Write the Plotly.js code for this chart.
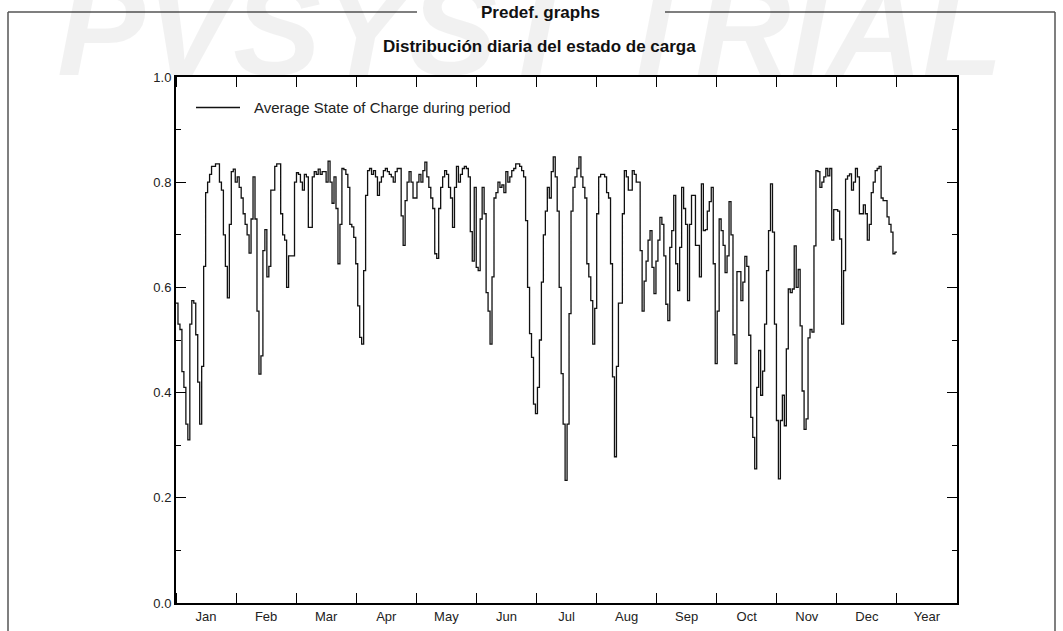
<!DOCTYPE html>
<html>
<head>
<meta charset="utf-8">
<script src="https://cdn.plot.ly/plotly-3.0.1.min.js"></script>
<style>html,body{margin:0;padding:0;background:#fff;}#chart{width:1063px;height:631px;}</style>
</head>
<body>
<div id="chart"></div>
<script>
// ---- data ----
const months = ['Jan','Feb','Mar','Apr','May','Jun','Jul','Aug','Sep','Oct','Nov','Dec','Year'];
const seriesName = 'Average State of Charge during period';
const soc = [
 0.57,0.53,0.52,0.44,0.41,0.34,0.31,0.53,0.575,0.57,0.51,0.42,0.34,0.45,0.64,0.78,0.80,0.815,0.83,0.83,
 0.835,0.835,0.80,0.785,0.70,0.64,0.58,0.72,0.82,0.825,0.80,0.81,0.79,0.77,0.74,0.72,0.70,0.665,0.73,0.81,
 0.73,0.555,0.435,0.47,0.67,0.71,0.62,0.64,0.785,0.785,0.83,0.835,0.835,0.74,0.70,0.69,0.60,0.66,0.66,0.66,
 0.80,0.818,0.815,0.80,0.785,0.815,0.81,0.714,0.714,0.81,0.82,0.815,0.825,0.815,0.82,0.82,0.80,0.84,0.80,0.76,
 0.81,0.75,0.645,0.72,0.826,0.824,0.815,0.79,0.72,0.715,0.695,0.645,0.565,0.505,0.492,0.632,0.775,0.822,0.826,0.815,
 0.822,0.81,0.775,0.80,0.81,0.822,0.826,0.82,0.815,0.81,0.80,0.82,0.826,0.826,0.736,0.68,0.765,0.80,0.82,0.80,
 0.77,0.77,0.80,0.815,0.80,0.822,0.838,0.81,0.79,0.77,0.75,0.664,0.655,0.75,0.79,0.81,0.822,0.815,0.79,0.77,
 0.714,0.79,0.83,0.80,0.815,0.826,0.83,0.826,0.81,0.706,0.65,0.79,0.638,0.632,0.73,0.79,0.74,0.59,0.555,0.492,
 0.62,0.77,0.78,0.80,0.79,0.795,0.78,0.82,0.80,0.81,0.822,0.826,0.835,0.835,0.83,0.822,0.81,0.727,0.60,0.512,
 0.467,0.378,0.36,0.41,0.50,0.61,0.70,0.745,0.79,0.77,0.82,0.848,0.81,0.745,0.60,0.436,0.34,0.233,0.34,0.55,
 0.745,0.79,0.81,0.826,0.848,0.81,0.79,0.77,0.645,0.62,0.575,0.492,0.56,0.74,0.81,0.815,0.815,0.81,0.78,0.77,
 0.645,0.43,0.278,0.45,0.57,0.57,0.74,0.822,0.81,0.785,0.785,0.822,0.815,0.80,0.80,0.67,0.555,0.612,0.65,0.69,
 0.708,0.638,0.588,0.65,0.69,0.733,0.72,0.66,0.568,0.537,0.676,0.708,0.775,0.645,0.594,0.676,0.79,0.75,0.72,0.575,
 0.72,0.775,0.775,0.68,0.68,0.62,0.797,0.708,0.71,0.745,0.763,0.79,0.645,0.455,0.555,0.73,0.708,0.68,0.628,0.66,
 0.763,0.70,0.51,0.455,0.63,0.63,0.575,0.61,0.659,0.64,0.509,0.353,0.315,0.255,0.41,0.48,0.395,0.441,0.53,0.632,
 0.708,0.797,0.705,0.53,0.347,0.236,0.347,0.395,0.337,0.483,0.597,0.59,0.597,0.679,0.60,0.634,0.527,0.403,0.33,0.35,
 0.504,0.52,0.515,0.679,0.822,0.82,0.79,0.80,0.81,0.826,0.812,0.826,0.69,0.748,0.748,0.745,0.692,0.53,0.632,0.806,
 0.812,0.816,0.785,0.80,0.826,0.81,0.74,0.74,0.757,0.74,0.69,0.72,0.78,0.80,0.822,0.826,0.83,0.77,0.765,0.765,
 0.734,0.72,0.705,0.664,0.667
];
const yTicks = [0, 0.2, 0.4, 0.6, 0.8, 1.0];
const chartTitle = 'Predef. graphs';
const chartSubtitle = 'Distribución diaria del estado de carga';
const watermark = 'PVSYST TRIAL';

// ---- geometry ----
const W = 1063, H = 631;
const L = 176, R = 957, T = 77, B = 603;
const PW = R - L, PH = B - T;
const px = v => (v - L) / PW;
const py = v => (B - v) / PH;
const nDays = soc.length;
const M = nDays / 12;

const xs = soc.map((_, i) => i);
xs.push(nDays);
const ys = soc.slice();
ys.push(soc[soc.length - 1]);

const font = 'Liberation Sans, Arial, sans-serif';

const trace = {
  x: xs, y: ys, type: 'scatter', mode: 'lines', name: seriesName,
  line: {shape: 'hv', color: '#111', width: 1.3},
  hoverinfo: 'skip', showlegend: false
};

const frameColor = '#555';
const legY = 107.5;
const layout = {
  width: W, height: H,
  margin: {l: L, r: W - R, t: T, b: H - B, pad: 0},
  paper_bgcolor: '#fff', plot_bgcolor: 'rgba(0,0,0,0)',
  showlegend: false,
  xaxis: {
    range: [0, 13 * M], tickmode: 'array',
    tickvals: months.map((_, k) => (k + 0.5) * M), ticktext: months,
    ticks: '', showline: true, linewidth: 2, linecolor: '#000', mirror: 'allticks',
    showgrid: false, zeroline: false,
    tickfont: {family: font, size: 13, color: '#222'},
    minor: {tickmode: 'linear', tick0: 0, dtick: M, ticks: 'inside', ticklen: 10, tickwidth: 1, tickcolor: '#000', showgrid: false}
  },
  yaxis: {
    range: [0, 1], tickmode: 'array', tickvals: yTicks, tickformat: '.1f',
    ticks: 'inside', ticklen: 10, tickwidth: 1, tickcolor: '#000',
    showline: true, linewidth: 2, linecolor: '#000', mirror: 'allticks',
    showgrid: false, zeroline: false,
    tickfont: {family: font, size: 13, color: '#222'},
    minor: {dtick: 0.1, ticks: 'inside', ticklen: 5, tickwidth: 1, tickcolor: '#000', showgrid: false}
  },
  shapes: [
    {type: 'line', xref: 'paper', yref: 'paper', x0: px(8), x1: px(8), y0: py(12), y1: py(640), line: {color: frameColor, width: 1.5}},
    {type: 'line', xref: 'paper', yref: 'paper', x0: px(1055), x1: px(1055), y0: py(12), y1: py(640), line: {color: frameColor, width: 1.5}},
    {type: 'line', xref: 'paper', yref: 'paper', x0: px(8), x1: px(417), y0: py(12), y1: py(12), line: {color: frameColor, width: 1.5}},
    {type: 'line', xref: 'paper', yref: 'paper', x0: px(665), x1: px(1055), y0: py(12), y1: py(12), line: {color: frameColor, width: 1.5}},
    // legend sample line
    {type: 'line', xref: 'paper', yref: 'paper', x0: px(196), x1: px(240), y0: py(legY), y1: py(legY), line: {color: '#111', width: 1.3}}
  ],
  annotations: [
    {text: watermark, xref: 'paper', yref: 'paper', x: px(530), y: py(30), xanchor: 'center', yanchor: 'middle',
     showarrow: false, font: {family: font, size: 132, color: 'rgba(0,0,0,0.055)', weight: 'bold', style: 'italic'}},
    {text: chartTitle, xref: 'paper', yref: 'paper', x: px(540), y: py(12), xanchor: 'center', yanchor: 'middle',
     showarrow: false, font: {family: font, size: 17, color: '#111', weight: 'bold'}},
    {text: chartSubtitle, xref: 'paper', yref: 'paper', x: px(539), y: py(46), xanchor: 'center', yanchor: 'middle',
     showarrow: false, font: {family: font, size: 17, color: '#111', weight: 'bold'}},
    {text: seriesName, xref: 'paper', yref: 'paper', x: px(252), y: py(legY), xanchor: 'left', yanchor: 'middle',
     showarrow: false, font: {family: font, size: 15, color: '#222'}}
  ]
};

Plotly.newPlot('chart', [trace], layout, {displayModeBar: false, staticPlot: true});
</script>
</body>
</html>
